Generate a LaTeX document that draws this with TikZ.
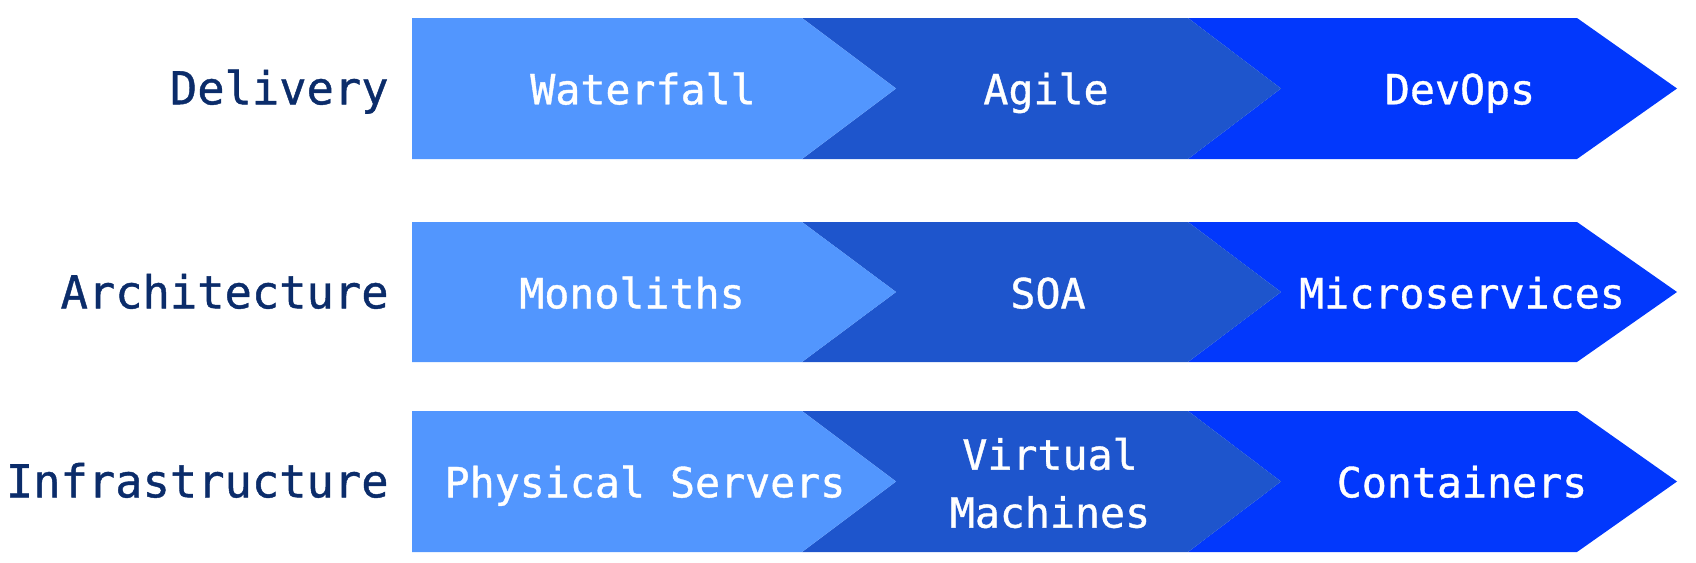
\documentclass[tikz,border=0pt]{standalone}
\usepackage{fontspec}
\newfontfamily\plexmono[FakeBold=0.9]{DejaVu Sans Mono}
\definecolor{cA}{HTML}{5296FE}
\definecolor{cB}{HTML}{1E55CC}
\definecolor{cC}{HTML}{0238FC}
\definecolor{navy}{HTML}{0B2C6A}
\tikzset{
  rowlabel/.style={anchor=mid east, text=navy, font=\plexmono\fontsize{22.7}{26}\selectfont, inner sep=0pt},
  chevtext/.style={anchor=mid, text=white, font=\plexmono\fontsize{20.8}{29}\selectfont, inner sep=0pt, align=center},
  chevtwo/.style={anchor=center, text=white, font=\plexmono\fontsize{20.8}{29}\selectfont, inner sep=0pt, align=center},
}
\begin{document}
\begin{tikzpicture}[x=0.5pt,y=-0.5pt]
\useasboundingbox (0,0) rectangle (1696,562);
% rows: top, bottom
\foreach \t/\b in {18/159, 222/362, 411/552}{
  \pgfmathsetmacro{\m}{(\t+\b)/2}
  \fill[cC] (1188,\t) -- (1577,\t) -- (1677,\m) -- (1577,\b) -- (1188,\b) -- (1281,\m) -- cycle;
  \fill[cB] (802,\t) -- (1188,\t) -- (1281,\m) -- (1188,\b) -- (802,\b) -- (896,\m) -- cycle;
  \fill[cA] (412,\t) -- (802,\t) -- (896,\m) -- (802,\b) -- (412,\b) -- cycle;
}
\node[rowlabel] (l1) at (389,100) {Delivery};
\node[rowlabel] (l2) at (389,304) {Architecture};
\node[rowlabel] (l3) at (389,493) {Infrastructure};

\node[chevtext] (a1) at (643,100) {Waterfall};
\node[chevtext] (a2) at (1046,100) {Agile};
\node[chevtext] (a3) at (1460,100) {DevOps};

\node[chevtext] (b1) at (632,304) {Monoliths};
\node[chevtext] (b2) at (1048,304) {SOA};
\node[chevtext] (b3) at (1462,304) {Microservices};

\node[chevtext] (c1) at (645,493) {Physical Servers};
\node[chevtwo] (c2) at (1050,483) {Virtual\\Machines};
\node[chevtext] (c3) at (1462,493) {Containers};
\end{tikzpicture}
\end{document}
